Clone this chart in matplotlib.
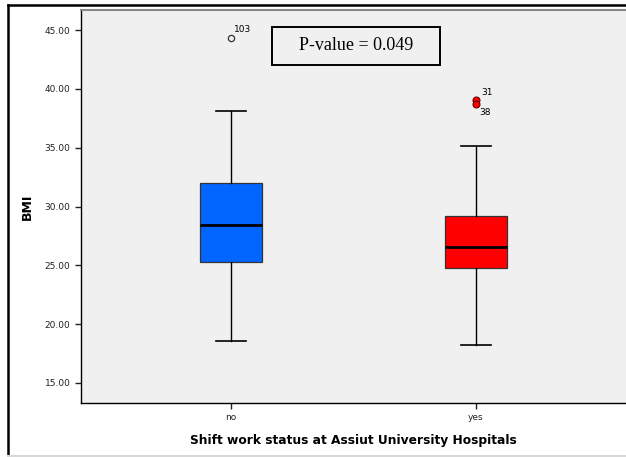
import matplotlib
matplotlib.use('Agg')
import matplotlib.pyplot as plt
from matplotlib.patches import Rectangle
from matplotlib.lines import Line2D

# box summary values (BMI)
groups = ['no', 'yes']
whisker_low = [18.6, 18.25]
q1 = [25.3, 24.75]
median = [28.45, 26.55]
q3 = [32.0, 29.2]
whisker_high = [38.1, 35.15]
outliers = [[44.3], [39.05, 38.7]]
outlier_ids = [['103'], ['31', '38']]
box_colors = ['#0066ff', '#ff0000']
yticks = [15, 20, 25, 30, 35, 40, 45]

fig = plt.figure(figsize=(6.26, 4.57), dpi=100)
ax = fig.add_axes([81 / 626, 54 / 457, 545 / 626, 393 / 457])
ax.set_facecolor('#f0f0f0')

stats = []
for i, g in enumerate(groups):
    stats.append({'label': g, 'whislo': whisker_low[i], 'q1': q1[i], 'med': median[i],
                  'q3': q3[i], 'whishi': whisker_high[i], 'fliers': []})

pos = [1, 2]
bp = ax.bxp(stats, positions=pos, widths=0.25, patch_artist=True, showfliers=False,
            boxprops=dict(edgecolor='#333333', linewidth=0.9),
            medianprops=dict(color='black', linewidth=2),
            whiskerprops=dict(color='black', linewidth=1),
            capprops=dict(color='black', linewidth=1.2), capwidths=0.12)
for patch, c in zip(bp['boxes'], box_colors):
    patch.set_facecolor(c)

# outliers
ax.plot([pos[0]] * len(outliers[0]), outliers[0], 'o', ms=4.5, mfc='none', mec='#333333', mew=0.9)
ax.plot([pos[1]] * len(outliers[1]), outliers[1], 'o', ms=5, mfc='#ff0000', mec='#660000', mew=0.8)
ax.text(pos[0] + 0.012, outliers[0][0] + 0.35, outlier_ids[0][0], fontsize=6.5, va='bottom', ha='left')
ax.text(pos[1] + 0.02, outliers[1][0] + 0.25, outlier_ids[1][0], fontsize=6.5, va='bottom', ha='left')
ax.text(pos[1] + 0.015, outliers[1][1] - 0.35, outlier_ids[1][1], fontsize=6.5, va='top', ha='left')

ax.set_xlim(0.388, 2.612)
ax.set_ylim(13.3, 46.7)
ax.set_yticks(yticks)
ax.set_yticklabels(['%.2f' % v for v in yticks], fontsize=6.5)
ax.set_xticks(pos)
ax.set_xticklabels(groups, fontsize=6.5)
ax.tick_params(axis='both', length=4, width=1, colors='#222222')
for s in ['top', 'right', 'left', 'bottom']:
    ax.spines[s].set_linewidth(1)
ax.spines['right'].set_visible(False)
ax.spines['top'].set_color('#888888')
ax.spines['top'].set_linewidth(1.5)

ax.set_ylabel('BMI', fontsize=9, fontweight='bold', labelpad=8)
ax.set_xlabel('Shift work status at Assiut University Hospitals', fontsize=8.8,
              fontweight='bold', labelpad=8)

# p-value annotation box
ax.add_patch(Rectangle((0.3505, 0.860), 0.308, 0.097, transform=ax.transAxes,
                       facecolor='#f0f0f0', edgecolor='black', linewidth=1.4, zorder=3))
ax.text(0.505, 0.909, 'P-value = 0.049', transform=ax.transAxes, fontsize=13,
        family='Liberation Serif', ha='center', va='center', zorder=4)

# outer frame: black left/top, light grey bottom
fig.lines.append(Line2D([7.5 / 626, 7.5 / 626], [1 - 5 / 457, 1.5 / 457], transform=fig.transFigure,
                        color='black', linewidth=1.8))
fig.lines.append(Line2D([7.5 / 626, 1], [1 - 5 / 457, 1 - 5 / 457], transform=fig.transFigure,
                        color='black', linewidth=1.8))
fig.lines.append(Line2D([8 / 626, 1], [1.5 / 457, 1.5 / 457], transform=fig.transFigure,
                        color='#d8d8d8', linewidth=1.5))

fig.savefig('out.png', dpi=100)
